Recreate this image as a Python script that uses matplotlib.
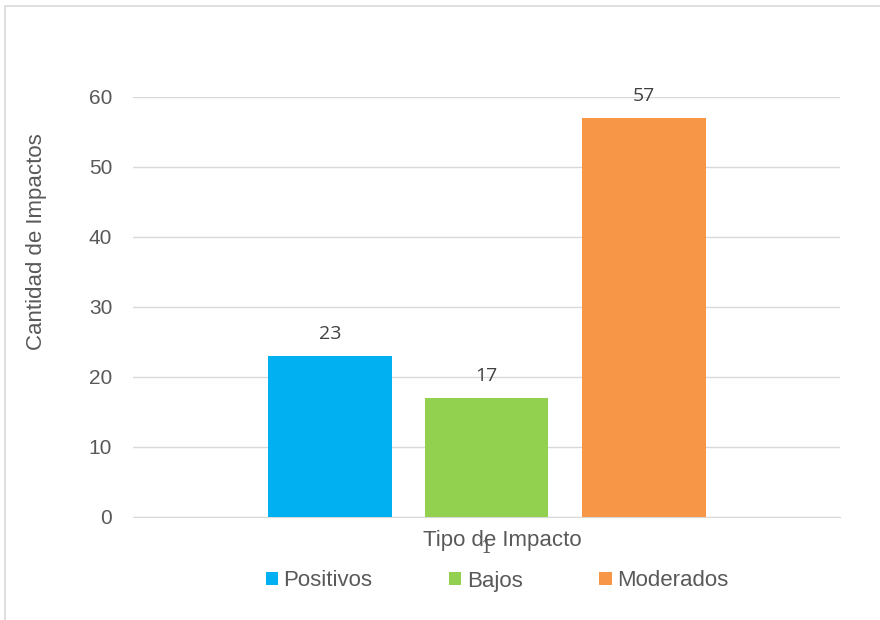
import matplotlib.pyplot as plt
from matplotlib.patches import Rectangle

# Datos
categorias = ['1']
series = ['Positivos', 'Bajos', 'Moderados']
valores = [23, 17, 57]
colores = ['#00B0F0', '#92D050', '#F79646']
yticks = [0, 10, 20, 30, 40, 50, 60]

fig = plt.figure(figsize=(8.8, 6.2), dpi=100)
ax = fig.add_axes([133 / 880, 1 - 517 / 620, 707 / 880, 420 / 620])

ancho = 0.175
offsets = [-0.221, 0.0, 0.223]
for off, v, c, s in zip(offsets, valores, colores, series):
    ax.bar(off, v, width=ancho, color=c, label=s, zorder=3)
    ax.text(off, v + 1.8, str(v), ha='center', va='bottom',
            fontsize=14, color='#404040', family='Open Sans', zorder=4)

ax.set_xlim(-0.5, 0.5)
ax.set_ylim(0, 60)
ax.set_yticks(yticks)
ax.grid(axis='y', color='#D9D9D9', lw=1, zorder=0)
for sp in ['top', 'right', 'left']:
    ax.spines[sp].set_visible(False)
ax.spines['bottom'].set_color('#D9D9D9')
ax.tick_params(axis='y', length=0, pad=15, labelsize=15, labelcolor='#595959')
for t in ax.get_yticklabels():
    t.set_family('Liberation Sans')

ax.set_xticks([0])
ax.set_xticklabels(categorias, family='DejaVu Serif', fontsize=13, color='#595959')
ax.tick_params(axis='x', length=0, pad=16)

ax.set_xlabel('Tipo de Impacto', fontsize=16, color='#595959', family='Liberation Sans')
ax.xaxis.set_label_coords(0.522, -0.055, transform=ax.transAxes)
ax.xaxis.label.set_va('center')
ax.set_ylabel('Cantidad de Impactos', fontsize=16, color='#595959', family='Liberation Sans')
ax.yaxis.set_label_coords(-0.137, 0.655)
ax.yaxis.label.set_va('center')

leg = fig.legend(loc='center', bbox_to_anchor=(497 / 880, 1 - 581 / 620), ncol=3,
                 frameon=False, handlelength=0.55, handleheight=0.55, handletextpad=0.25,
                 columnspacing=3.45, prop={'family': 'Liberation Sans', 'size': 16})
for t in leg.get_texts():
    t.set_color('#595959')

# marco del grafico
fig.add_artist(Rectangle((5 / 880, -0.1), 1.2, 1.1 - 6 / 620, transform=fig.transFigure,
                         fill=False, edgecolor='#D9D9D9', lw=1.2))

fig.savefig('out.png', dpi=100)
